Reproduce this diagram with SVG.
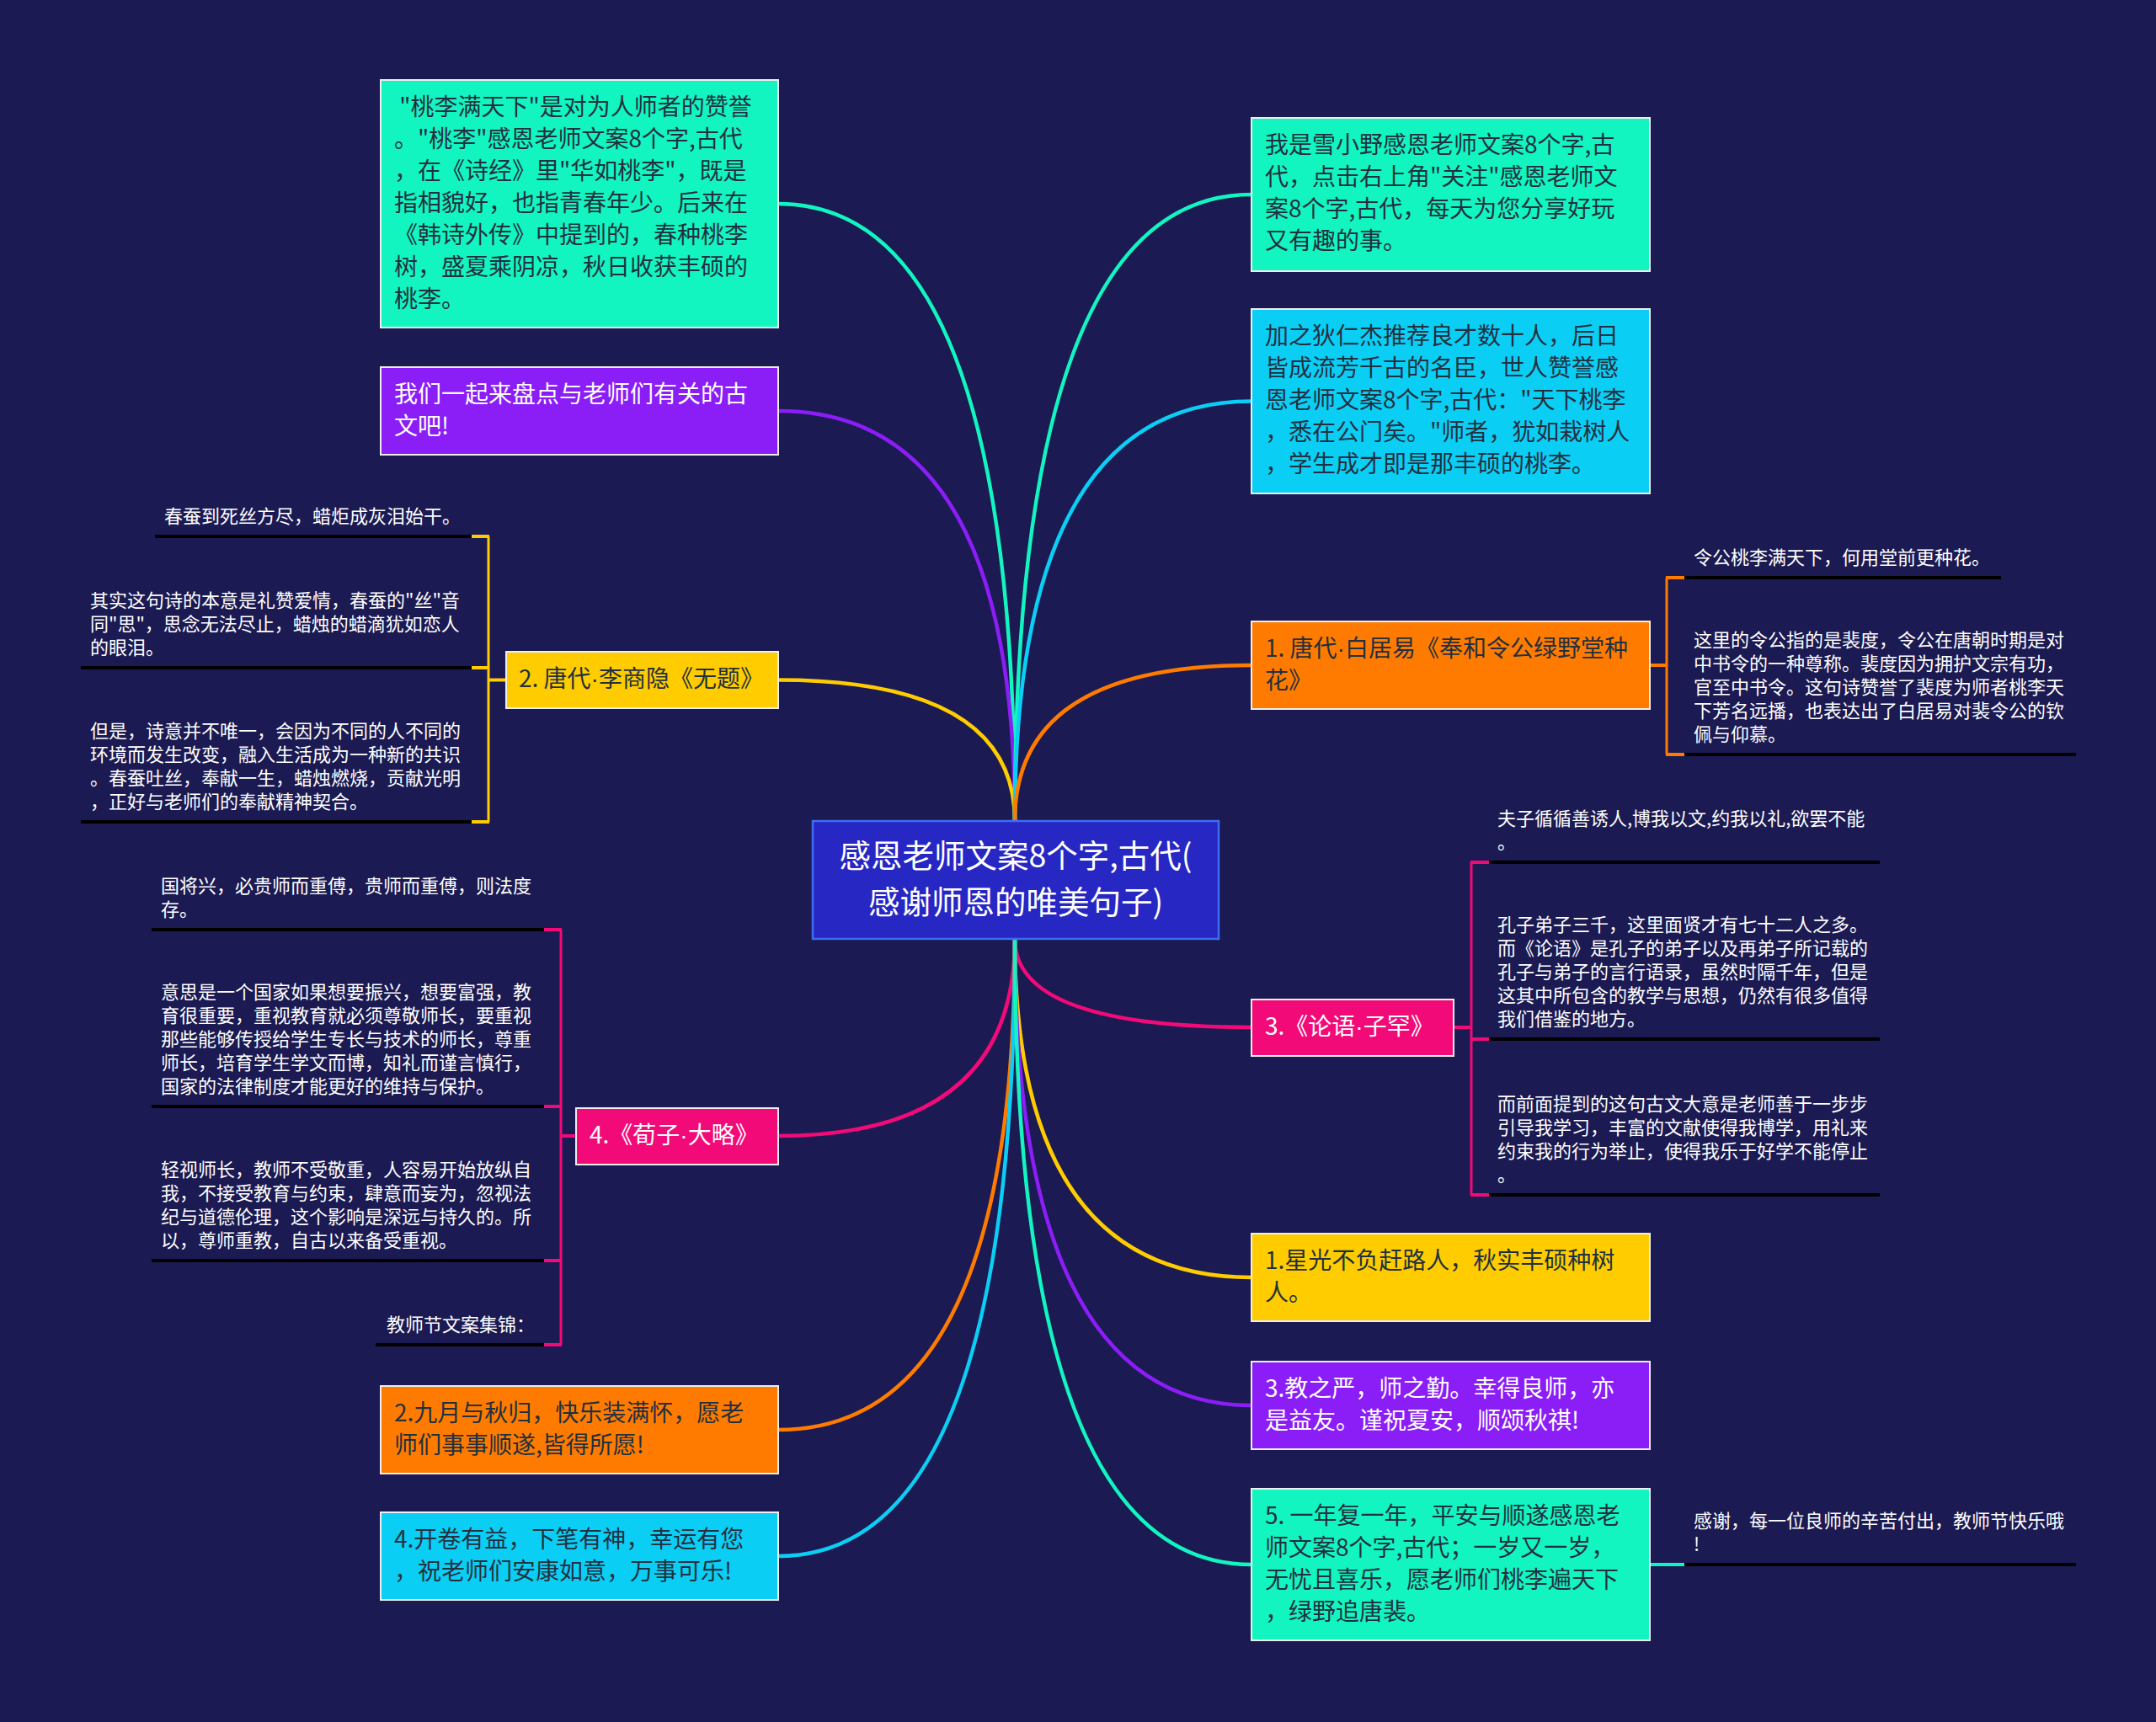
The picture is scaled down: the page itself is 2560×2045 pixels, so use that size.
<svg xmlns="http://www.w3.org/2000/svg" width="2560" height="2045" viewBox="0 0 2560 2045">
<style>
text{font-family:"Noto Sans CJK SC","Noto Sans","Liberation Sans",sans-serif}
.lat{font-family:"Liberation Sans","Noto Sans",sans-serif}
.t28{font-size:28px}
.dk{fill:#22303f}
.wt{fill:#ffffff}
.leaf{font-size:22px;fill:#ffffff}
.box{stroke:#eeeeee;stroke-width:2}
.conn{fill:none;stroke-width:4.5;stroke-linecap:round}
.ul{stroke:#000000;stroke-width:4}
.tick{stroke-width:4}
.brk{fill:none;stroke-width:3}
.green{fill:#12f5c1}.purple{fill:#8b1df7}.yellow{fill:#ffcc00}.pink{fill:#f20a78}.orange{fill:#ff7b00}.cyan{fill:#0bcef4}
.sgreen{stroke:#12f5c1}.spurple{stroke:#8b1df7}.syellow{stroke:#ffcc00}.spink{stroke:#f20a78}.sorange{stroke:#ff7b00}.scyan{stroke:#0bcef4}
</style>
<rect x="0" y="0" width="2560" height="2045" fill="#1b1a52"/>

<g id="connectors">
<path class="conn sgreen" d="M1205,975 Q1205,242 924,242"/>
<path class="conn spurple" d="M1205,975 Q1205,488 924,488"/>
<path class="conn syellow" d="M1205,975 Q1205,807.5 924,807.5"/>
<path class="conn sgreen" d="M1205,975 Q1205,231 1486,231"/>
<path class="conn scyan" d="M1205,975 Q1205,476.5 1486,476.5"/>
<path class="conn sorange" d="M1205,975 Q1205,790 1486,790"/>
<path class="conn spink" d="M1205,1115 Q1205,1349 924,1349"/>
<path class="conn sorange" d="M1205,1115 Q1205,1698 924,1698"/>
<path class="conn scyan" d="M1205,1115 Q1205,1848 924,1848"/>
<path class="conn spink" d="M1205,1115 Q1205,1220 1486,1220"/>
<path class="conn syellow" d="M1205,1115 Q1205,1517 1486,1517"/>
<path class="conn spurple" d="M1205,1115 Q1205,1669 1486,1669"/>
<path class="conn sgreen" d="M1205,1115 Q1205,1858 1486,1858"/>
<!-- C leaves -->
<line class="tick syellow" x1="580" y1="807.5" x2="601" y2="807.5"/>
<line class="brk syellow" x1="580" y1="637" x2="580" y2="976"/>
<line class="ul" x1="184" y1="637" x2="560" y2="637"/>
<line class="ul" x1="96" y1="793" x2="560" y2="793"/>
<line class="ul" x1="96" y1="976" x2="560" y2="976"/>
<line class="tick syellow" x1="560" y1="637" x2="581" y2="637"/>
<line class="tick syellow" x1="560" y1="793" x2="581" y2="793"/>
<line class="tick syellow" x1="560" y1="976" x2="581" y2="976"/>
<!-- D leaves -->
<line class="tick spink" x1="666" y1="1349" x2="684" y2="1349"/>
<line class="brk spink" x1="666" y1="1104" x2="666" y2="1597"/>
<line class="ul" x1="180" y1="1104" x2="646" y2="1104"/>
<line class="ul" x1="180" y1="1314" x2="646" y2="1314"/>
<line class="ul" x1="180" y1="1497" x2="646" y2="1497"/>
<line class="ul" x1="446" y1="1597" x2="646" y2="1597"/>
<line class="tick spink" x1="646" y1="1104" x2="667" y2="1104"/>
<line class="tick spink" x1="646" y1="1314" x2="667" y2="1314"/>
<line class="tick spink" x1="646" y1="1497" x2="667" y2="1497"/>
<line class="tick spink" x1="646" y1="1597" x2="667" y2="1597"/>
<!-- I leaves -->
<line class="tick sorange" x1="1959" y1="790" x2="1979" y2="790"/>
<line class="brk sorange" x1="1979" y1="686" x2="1979" y2="896"/>
<line class="ul" x1="2000" y1="686" x2="2376" y2="686"/>
<line class="ul" x1="2000" y1="896" x2="2465" y2="896"/>
<line class="tick sorange" x1="1978" y1="686" x2="2000" y2="686"/>
<line class="tick sorange" x1="1978" y1="896" x2="2000" y2="896"/>
<!-- J leaves -->
<line class="tick spink" x1="1726" y1="1220" x2="1747" y2="1220"/>
<line class="brk spink" x1="1747" y1="1024" x2="1747" y2="1419"/>
<line class="ul" x1="1768" y1="1024" x2="2232" y2="1024"/>
<line class="ul" x1="1768" y1="1234" x2="2232" y2="1234"/>
<line class="ul" x1="1768" y1="1419" x2="2232" y2="1419"/>
<line class="tick spink" x1="1746" y1="1024" x2="1768" y2="1024"/>
<line class="tick spink" x1="1746" y1="1234" x2="1768" y2="1234"/>
<line class="tick spink" x1="1746" y1="1419" x2="1768" y2="1419"/>
<!-- M leaf -->
<line class="tick sgreen" x1="1959" y1="1858" x2="2000" y2="1858"/>
<line class="ul" x1="2000" y1="1858" x2="2465" y2="1858"/>
</g>

<g id="center">
<rect x="965" y="975" width="482" height="140" fill="#2727c4" stroke="#3d6ef2" stroke-width="2.5"/>
<text font-size="37.5" class="wt" text-anchor="middle" x="1206" y="1030">感恩老师文案8个字,古代(</text>
<text font-size="37.5" class="wt" text-anchor="middle" x="1206" y="1085">感谢师恩的唯美句子)</text>
</g>

<g id="nodeA">
<rect class="box green" x="452" y="95" width="472" height="294"/>
<text class="t28 dk"><tspan x="468" y="137">&#160;"桃李满天下"是对为人师者的赞誉</tspan><tspan x="468" y="175">。"桃李"感恩老师文案8个字,古代</tspan><tspan x="468" y="213">，在《诗经》里"华如桃李"，既是</tspan><tspan x="468" y="251">指相貌好，也指青春年少。后来在</tspan><tspan x="468" y="289">《韩诗外传》中提到的，春种桃李</tspan><tspan x="468" y="327">树，盛夏乘阴凉，秋日收获丰硕的</tspan><tspan x="468" y="365">桃李。</tspan></text>
</g>

<g id="nodeB">
<rect class="box purple" x="452" y="436" width="472" height="104"/>
<text class="t28 wt"><tspan x="468" y="478">我们一起来盘点与老师们有关的古</tspan><tspan x="468" y="516">文吧!</tspan></text>
</g>

<g id="nodeC">
<rect class="box yellow" x="601" y="774" width="323" height="67"/>
<text class="t28 dk" x="616" y="816">2. 唐代<tspan class="lat">·</tspan>李商隐《无题》</text>
</g>
<g id="leafC1"><text class="leaf" x="195" y="621">春蚕到死丝方尽，蜡炬成灰泪始干。</text></g>
<g id="leafC2"><text class="leaf"><tspan x="107" y="721">其实这句诗的本意是礼赞爱情，春蚕的"丝"音</tspan><tspan x="107" y="749">同"思"，思念无法尽止，蜡烛的蜡滴犹如恋人</tspan><tspan x="107" y="777">的眼泪。</tspan></text></g>
<g id="leafC3"><text class="leaf"><tspan x="107" y="876">但是，诗意并不唯一，会因为不同的人不同的</tspan><tspan x="107" y="904">环境而发生改变，融入生活成为一种新的共识</tspan><tspan x="107" y="932">。春蚕吐丝，奉献一生，蜡烛燃烧，贡献光明</tspan><tspan x="107" y="960">，正好与老师们的奉献精神契合。</tspan></text></g>

<g id="nodeD">
<rect class="box pink" x="684" y="1316" width="240" height="67"/>
<text class="t28 wt" x="700" y="1358">4.《荀子<tspan class="lat">·</tspan>大略》</text>
</g>
<g id="leafD1"><text class="leaf"><tspan x="191" y="1060">国将兴，必贵师而重傅，贵师而重傅，则法度</tspan><tspan x="191" y="1088">存。</tspan></text></g>
<g id="leafD2"><text class="leaf"><tspan x="191" y="1186">意思是一个国家如果想要振兴，想要富强，教</tspan><tspan x="191" y="1214">育很重要，重视教育就必须尊敬师长，要重视</tspan><tspan x="191" y="1242">那些能够传授给学生专长与技术的师长，尊重</tspan><tspan x="191" y="1270">师长，培育学生学文而博，知礼而谨言慎行，</tspan><tspan x="191" y="1298">国家的法律制度才能更好的维持与保护。</tspan></text></g>
<g id="leafD3"><text class="leaf"><tspan x="191" y="1397">轻视师长，教师不受敬重，人容易开始放纵自</tspan><tspan x="191" y="1425">我，不接受教育与约束，肆意而妄为，忽视法</tspan><tspan x="191" y="1453">纪与道德伦理，这个影响是深远与持久的。所</tspan><tspan x="191" y="1481">以，尊师重教，自古以来备受重视。</tspan></text></g>
<g id="leafD4"><text class="leaf" x="459" y="1581">教师节文案集锦：</text></g>

<g id="nodeE">
<rect class="box orange" x="452" y="1646" width="472" height="104"/>
<text class="t28 dk"><tspan x="468" y="1688">2.九月与秋归，快乐装满怀，愿老</tspan><tspan x="468" y="1726">师们事事顺遂,皆得所愿!</tspan></text>
</g>

<g id="nodeF">
<rect class="box cyan" x="452" y="1796" width="472" height="104"/>
<text class="t28 dk"><tspan x="468" y="1838">4.开卷有益，下笔有神，幸运有您</tspan><tspan x="468" y="1876">，祝老师们安康如意，万事可乐!</tspan></text>
</g>

<g id="nodeG">
<rect class="box green" x="1486" y="140" width="473" height="182"/>
<text class="t28 dk"><tspan x="1502" y="182">我是雪小野感恩老师文案8个字,古</tspan><tspan x="1502" y="220">代，点击右上角"关注"感恩老师文</tspan><tspan x="1502" y="258">案8个字,古代，每天为您分享好玩</tspan><tspan x="1502" y="296">又有趣的事。</tspan></text>
</g>

<g id="nodeH">
<rect class="box cyan" x="1486" y="367" width="473" height="219"/>
<text class="t28 dk"><tspan x="1502" y="409">加之狄仁杰推荐良才数十人，后日</tspan><tspan x="1502" y="447">皆成流芳千古的名臣，世人赞誉感</tspan><tspan x="1502" y="485">恩老师文案8个字,古代："天下桃李</tspan><tspan x="1502" y="523">，悉在公门矣。"师者，犹如栽树人</tspan><tspan x="1502" y="561">，学生成才即是那丰硕的桃李。</tspan></text>
</g>

<g id="nodeI">
<rect class="box orange" x="1486" y="738" width="473" height="104"/>
<text class="t28 dk"><tspan x="1502" y="780">1. 唐代<tspan class="lat">·</tspan>白居易《奉和令公绿野堂种</tspan><tspan x="1502" y="818">花》</tspan></text>
</g>
<g id="leafI1"><text class="leaf" x="2011" y="670">令公桃李满天下，何用堂前更种花。</text></g>
<g id="leafI2"><text class="leaf"><tspan x="2011" y="768">这里的令公指的是裴度，令公在唐朝时期是对</tspan><tspan x="2011" y="796">中书令的一种尊称。裴度因为拥护文宗有功，</tspan><tspan x="2011" y="824">官至中书令。这句诗赞誉了裴度为师者桃李天</tspan><tspan x="2011" y="852">下芳名远播，也表达出了白居易对裴令公的钦</tspan><tspan x="2011" y="880">佩与仰慕。</tspan></text></g>

<g id="nodeJ">
<rect class="box pink" x="1486" y="1187" width="240" height="67"/>
<text class="t28 wt" x="1502" y="1229">3.《论语<tspan class="lat">·</tspan>子罕》</text>
</g>
<g id="leafJ1"><text class="leaf"><tspan x="1778" y="980">夫子循循善诱人,博我以文,约我以礼,欲罢不能</tspan><tspan x="1778" y="1008">。</tspan></text></g>
<g id="leafJ2"><text class="leaf"><tspan x="1778" y="1106">孔子弟子三千，这里面贤才有七十二人之多。</tspan><tspan x="1778" y="1134">而《论语》是孔子的弟子以及再弟子所记载的</tspan><tspan x="1778" y="1162">孔子与弟子的言行语录，虽然时隔千年，但是</tspan><tspan x="1778" y="1190">这其中所包含的教学与思想，仍然有很多值得</tspan><tspan x="1778" y="1218">我们借鉴的地方。</tspan></text></g>
<g id="leafJ3"><text class="leaf"><tspan x="1778" y="1319">而前面提到的这句古文大意是老师善于一步步</tspan><tspan x="1778" y="1347">引导我学习，丰富的文献使得我博学，用礼来</tspan><tspan x="1778" y="1375">约束我的行为举止，使得我乐于好学不能停止</tspan><tspan x="1778" y="1403">。</tspan></text></g>

<g id="nodeK">
<rect class="box yellow" x="1486" y="1465" width="473" height="104"/>
<text class="t28 dk"><tspan x="1502" y="1507">1.星光不负赶路人，秋实丰硕种树</tspan><tspan x="1502" y="1545">人。</tspan></text>
</g>

<g id="nodeL">
<rect class="box purple" x="1486" y="1617" width="473" height="104"/>
<text class="t28 wt"><tspan x="1502" y="1659">3.教之严，师之勤。幸得良师，亦</tspan><tspan x="1502" y="1697">是益友。谨祝夏安，顺颂秋祺!</tspan></text>
</g>

<g id="nodeM">
<rect class="box green" x="1486" y="1768" width="473" height="180"/>
<text class="t28 dk"><tspan x="1502" y="1810">5. 一年复一年，平安与顺遂感恩老</tspan><tspan x="1502" y="1848">师文案8个字,古代；一岁又一岁，</tspan><tspan x="1502" y="1886">无忧且喜乐，愿老师们桃李遍天下</tspan><tspan x="1502" y="1924">，绿野追唐裴。</tspan></text>
</g>
<g id="leafM1"><text class="leaf"><tspan x="2011" y="1814">感谢，每一位良师的辛苦付出，教师节快乐哦</tspan><tspan x="2011" y="1842">!</tspan></text></g>
</svg>
